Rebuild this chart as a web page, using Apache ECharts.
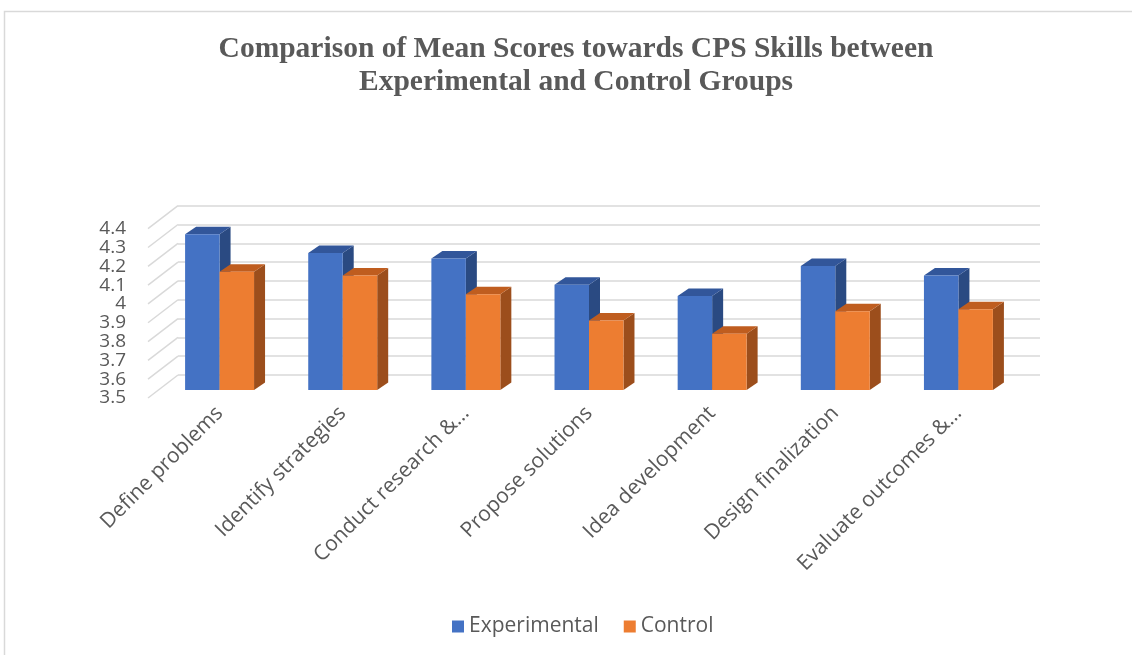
<!DOCTYPE html>
<html>
<head>
<meta charset="utf-8">
<script src="https://cdn.jsdelivr.net/npm/echarts@6/dist/echarts.min.js"></script>
<style>
html,body{margin:0;padding:0;background:#fff;}
#chart{width:1132px;height:655px;}
</style>
</head>
<body>
<div id="chart"></div>
<script>
var categories = ['Define problems','Identify strategies','Conduct research &…','Propose solutions','Idea development','Design finalization','Evaluate outcomes &…'];
var experimental = [4.33, 4.23, 4.20, 4.06, 4.00, 4.16, 4.11];
var control = [4.13, 4.11, 4.01, 3.87, 3.80, 3.92, 3.93];
var yTicks = [3.5, 3.6, 3.7, 3.8, 3.9, 4.0, 4.1, 4.2, 4.3, 4.4];
var seriesNames = ['Experimental', 'Control'];

var palette = [
  {front:'#4472C4', top:'#32569a', side:'#2a4a82'},
  {front:'#ED7D31', top:'#bf5d1f', side:'#9c4e1c'}
];
var DX = 11, DY = 7.5;

function barRenderer(idx){
  return function(params, api){
    var ci = api.value(0), v = api.value(1);
    var base = api.coord([ci, 3.5]);
    var tp = api.coord([ci, v]);
    var band = api.size([1, 0])[0];
    var w = band * 0.28;
    var x0 = idx === 0 ? base[0] - w : base[0];
    var ty = tp[1], by = base[1];
    var c = palette[idx];
    return {
      type:'group',
      children:[
        {type:'polygon', shape:{points:[[x0+w,ty],[x0+w+DX,ty-DY],[x0+w+DX,by-DY],[x0+w,by]]}, style:{fill:c.side}},
        {type:'polygon', shape:{points:[[x0,ty],[x0+DX,ty-DY],[x0+w+DX,ty-DY],[x0+w,ty]]}, style:{fill:c.top}},
        {type:'rect', shape:{x:x0, y:ty, width:w, height:by-ty}, style:{fill:c.front}}
      ]
    };
  };
}

function wallRenderer(params, api){
  var v = api.value(0);
  var p = api.coord([0, v]);
  return {type:'line', shape:{x1:p[0]-30, y1:p[1]+23, x2:p[0], y2:p[1]}, style:{stroke:'#d9d9d9', lineWidth:1.5}};
}

var chart = echarts.init(document.getElementById('chart'));
var yBase = {type:'value', min:3.5, max:4.4, interval:0.1};
chart.setOption({
  backgroundColor:'#ffffff',
  animation:false,
  title:{
    text:'Comparison of Mean Scores towards CPS Skills between\nExperimental and Control Groups',
    left:576, top:33, padding:0, textAlign:'center',
    textStyle:{fontFamily:'Liberation Serif', fontWeight:'bold', fontSize:29.5, lineHeight:33, color:'#595959'}
  },
  legend:{
    data:seriesNames, left:447, top:611, itemWidth:12, itemHeight:12, itemGap:25, icon:'rect',
    textStyle:{fontFamily:'Open Sans', fontSize:21, color:'#595959'}
  },
  graphic:[{type:'rect', shape:{x:4.5, y:11.5, width:1300, height:800}, style:{fill:'none', stroke:'#d9d9d9', lineWidth:1.5}, z:-10}],
  grid:[
    {left:158, right:112, top:221, bottom:265},
    {left:178, right:92, top:205.7, bottom:280},
    {left:148, right:122, top:228.7, bottom:257}
  ],
  xAxis:[
    {type:'category', gridIndex:0, data:categories, axisLine:{show:false}, axisTick:{show:false},
     axisLabel:{interval:0, rotate:45, margin:20, fontFamily:'Open Sans', fontSize:21, color:'#595959'}},
    {type:'value', gridIndex:1, min:0, max:1, show:false},
    {type:'value', gridIndex:2, min:0, max:1, show:false}
  ],
  yAxis:[
    Object.assign({gridIndex:0, show:false}, yBase),
    Object.assign({gridIndex:1, axisLine:{show:false}, axisTick:{show:false}, axisLabel:{show:false},
      splitLine:{show:true, lineStyle:{color:'#d9d9d9', width:1.5}}}, yBase),
    Object.assign({gridIndex:2, axisLine:{show:false}, axisTick:{show:false}, splitLine:{show:false},
      axisLabel:{margin:22, showMinLabel:true, showMaxLabel:true,
        fontFamily:'Open Sans', fontSize:19, color:'#595959',
        formatter:function(v){return String(Math.round(v*10)/10);}}}, yBase)
  ],
  series:[
    {type:'custom', name:'wall', xAxisIndex:1, yAxisIndex:1, renderItem:wallRenderer,
     data:yTicks.map(function(t){return [t];}), silent:true, z:1},
    {type:'custom', name:seriesNames[0], xAxisIndex:0, yAxisIndex:0, renderItem:barRenderer(0),
     itemStyle:{color:palette[0].front}, encode:{x:0, y:1},
     data:experimental.map(function(v,i){return [i, v];}), z:3},
    {type:'custom', name:seriesNames[1], xAxisIndex:0, yAxisIndex:0, renderItem:barRenderer(1),
     itemStyle:{color:palette[1].front}, encode:{x:0, y:1},
     data:control.map(function(v,i){return [i, v];}), z:4}
  ]
});
</script>
</body>
</html>
